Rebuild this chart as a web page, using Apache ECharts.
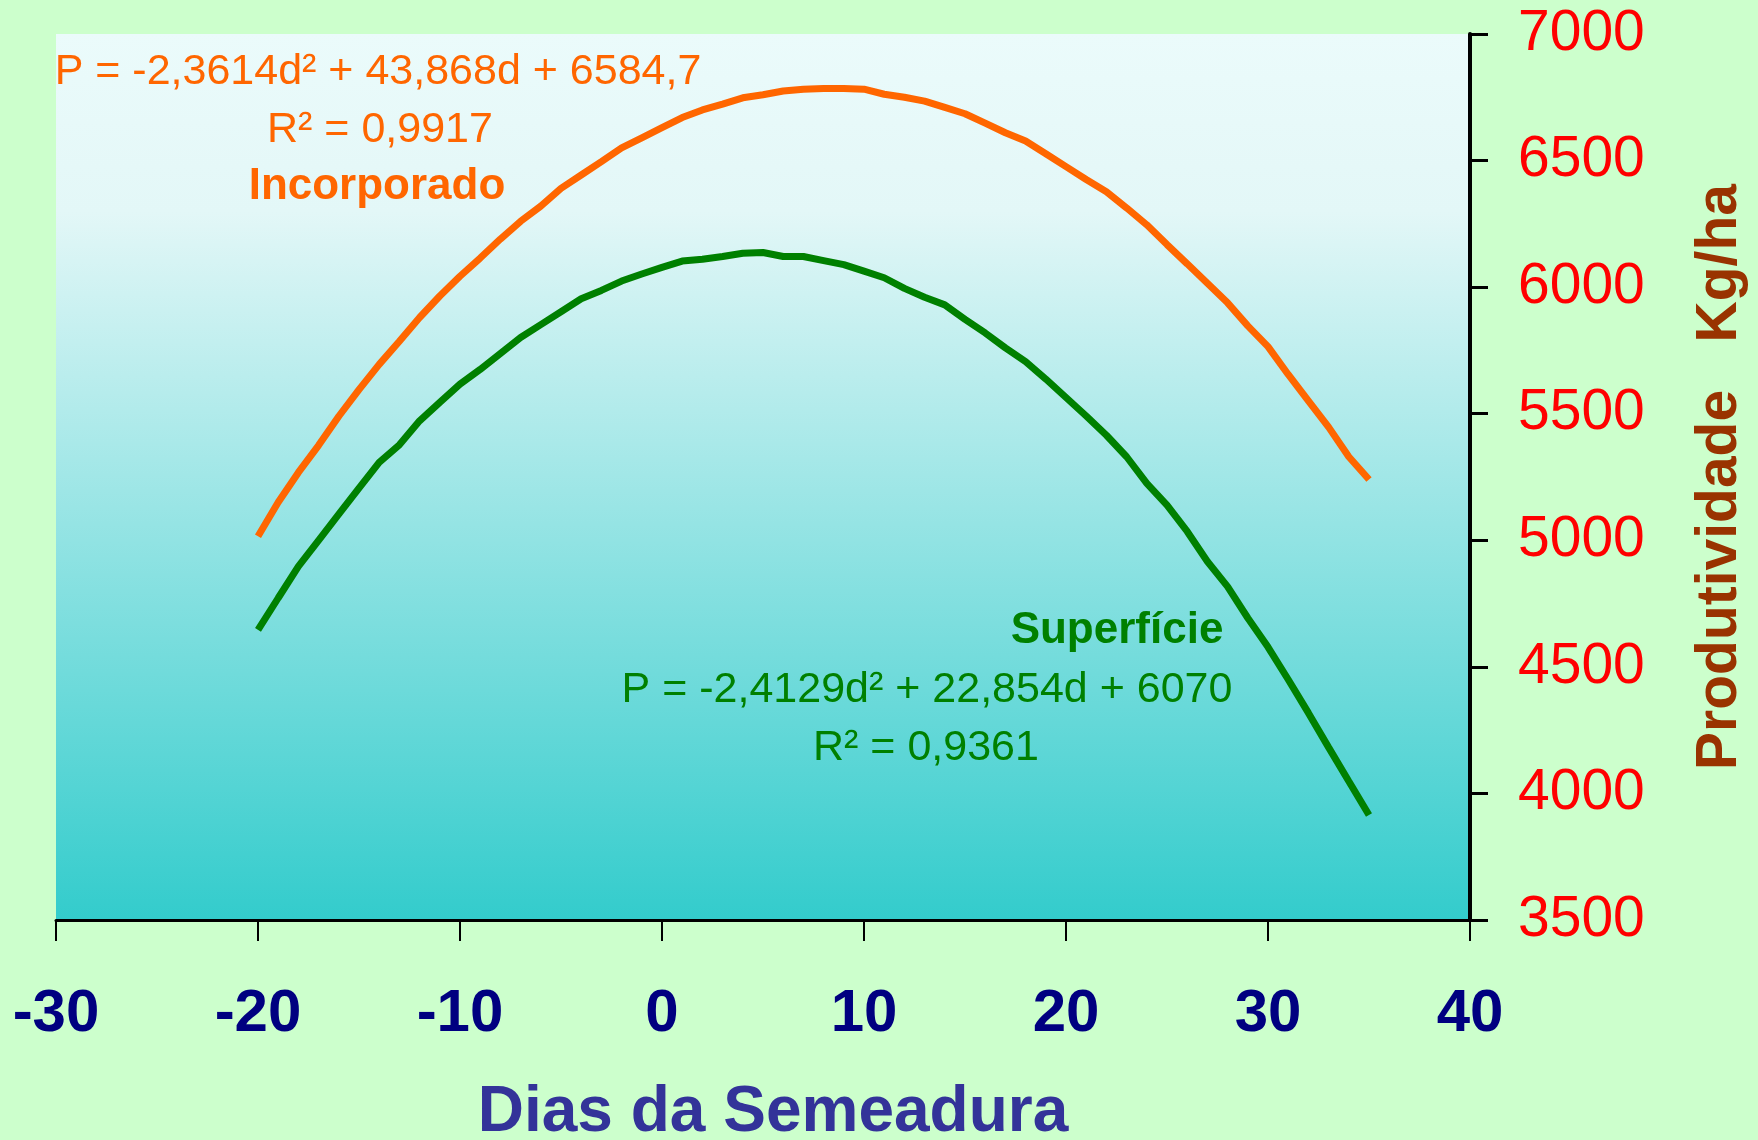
<!DOCTYPE html>
<html>
<head>
<meta charset="utf-8">
<script src="https://cdn.jsdelivr.net/npm/echarts@6/dist/echarts.min.js"></script>
<style>
html,body{margin:0;padding:0;background:#ccffcc;}
#chart{width:1758px;height:1140px;}
</style>
</head>
<body>
<div id="chart"></div>
<script>
// Days after sowing (x) and productivity (kg/ha)
const days = [-20,-19,-18,-17,-16,-15,-14,-13,-12,-11,-10,-9,-8,-7,-6,-5,-4,-3,-2,-1,0,1,2,3,4,5,6,7,8,9,10,11,12,13,14,15,16,17,18,19,20,21,22,23,24,25,26,27,28,29,30,31,32,33,34,35];
const incorporado = [5016,5150,5268,5375,5490,5595,5695,5786,5880,5965,6043,6115,6190,6260,6320,6390,6443,6496,6550,6590,6630,6670,6700,6723,6748,6760,6775,6782,6785,6785,6782,6762,6750,6735,6710,6685,6648,6610,6577,6527,6476,6425,6377,6313,6246,6168,6092,6015,5938,5847,5765,5655,5551,5447,5330,5240];
const superficie = [4646,4772,4897,5000,5103,5206,5308,5377,5472,5545,5617,5675,5738,5801,5852,5903,5954,5987,6024,6052,6078,6103,6110,6121,6134,6137,6121,6121,6105,6089,6063,6037,5995,5960,5930,5873,5819,5760,5706,5637,5564,5491,5415,5330,5225,5139,5035,4916,4817,4693,4578,4450,4318,4182,4048,3915];
const xTicks = {min:-30, max:40, interval:10};
const yTicks = {min:3500, max:7000, interval:500};
const xTitle = 'Dias da Semeadura';
const yTitle = 'Produtividade   Kg/ha';
const incEq = 'P = -2,3614d² + 43,868d + 6584,7';
const incR2 = 'R² = 0,9917';
const incName = 'Incorporado';
const supName = 'Superfície';
const supEq = 'P = -2,4129d² + 22,854d + 6070';
const supR2 = 'R² = 0,9361';

const FONT = '"Liberation Sans", Arial, sans-serif';
const pair = (xs, ys) => xs.map((d, i) => [d, ys[i]]);

const chart = echarts.init(document.getElementById('chart'), null, {renderer:'canvas'});
chart.setOption({
  backgroundColor: '#ccffcc',
  animation: false,
  grid: {
    left: 56, right: 288, top: 34, bottom: 220,
    containLabel: false,
    outerBoundsMode: 'none',
    show: true,
    borderWidth: 0,
    backgroundColor: new echarts.graphic.LinearGradient(0, 0, 0, 1, [
      {offset: 0, color: '#ebfbfb'},
      {offset: 0.2, color: '#e3f7f7'},
      {offset: 1, color: '#33cccc'}
    ])
  },
  xAxis: {
    type: 'value',
    min: xTicks.min, max: xTicks.max, interval: xTicks.interval,
    position: 'bottom',
    axisLine: {show: true, onZero: false, lineStyle: {color: '#000', width: 3}},
    axisTick: {show: true, inside: false, length: 21, lineStyle: {color: '#000', width: 2}},
    splitLine: {show: false},
    axisLabel: {
      show: true, showMinLabel: true, showMaxLabel: true, hideOverlap: false,
      margin: 64, color: '#000080', fontFamily: FONT, fontWeight: 'bold', fontSize: 60,
      formatter: v => String(v)
    },
    name: xTitle,
    nameLocation: 'middle',
    nameGap: 161,
    nameTextStyle: {color: '#333399', fontFamily: FONT, fontWeight: 'bold', fontSize: 64, padding: [0, 0, 0, 20]}
  },
  yAxis: {
    type: 'value',
    min: yTicks.min, max: yTicks.max, interval: yTicks.interval,
    position: 'right',
    axisLine: {show: true, onZero: false, lineStyle: {color: '#000', width: 4}},
    axisTick: {show: true, inside: false, length: 18, lineStyle: {color: '#000', width: 3}},
    splitLine: {show: false},
    axisLabel: {
      show: true, showMinLabel: true, showMaxLabel: true, hideOverlap: false,
      margin: 48, color: '#ff0000', fontFamily: FONT, fontSize: 57,
      formatter: v => String(v)
    },
    name: yTitle,
    nameLocation: 'middle',
    nameRotate: 90,
    nameGap: 222,
    nameTextStyle: {color: '#993300', fontFamily: FONT, fontWeight: 'bold', fontSize: 57}
  },
  series: [
    {
      name: 'Incorporado', type: 'line', data: pair(days, incorporado),
      showSymbol: false, symbol: 'none', smooth: false,
      lineStyle: {color: '#ff6600', width: 7}, itemStyle: {color: '#ff6600'}, z: 3
    },
    {
      name: 'Superfície', type: 'line', data: pair(days, superficie),
      showSymbol: false, symbol: 'none', smooth: false,
      lineStyle: {color: '#008000', width: 7}, itemStyle: {color: '#008000'}, z: 3
    }
  ],
  graphic: [
    {type: 'text', x: 378, y: 72, z: 10, style: {text: incEq, fill: '#ff6600', font: '43px ' + FONT, align: 'center', verticalAlign: 'middle'}},
    {type: 'text', x: 380, y: 130, z: 10, style: {text: incR2, fill: '#ff6600', font: '43px ' + FONT, align: 'center', verticalAlign: 'middle'}},
    {type: 'text', x: 377, y: 187, z: 10, style: {text: incName, fill: '#ff6600', font: 'bold 44px ' + FONT, align: 'center', verticalAlign: 'middle'}},
    {type: 'text', x: 1117, y: 631, z: 10, style: {text: supName, fill: '#008000', font: 'bold 44px ' + FONT, align: 'center', verticalAlign: 'middle'}},
    {type: 'text', x: 927, y: 690, z: 10, style: {text: supEq, fill: '#008000', font: '43px ' + FONT, align: 'center', verticalAlign: 'middle'}},
    {type: 'text', x: 926, y: 748, z: 10, style: {text: supR2, fill: '#008000', font: '43px ' + FONT, align: 'center', verticalAlign: 'middle'}}
  ]
});
</script>
</body>
</html>
